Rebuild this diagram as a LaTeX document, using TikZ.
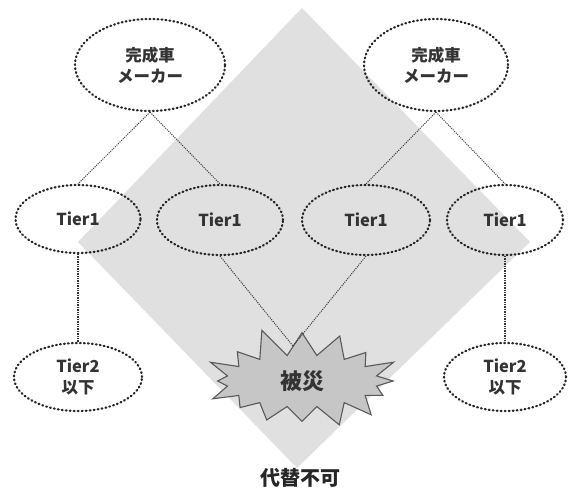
\documentclass[tikz,border=0pt]{standalone}
\usepackage{fontspec}
\setmainfont{Noto Sans CJK JP}
\usetikzlibrary{shapes.geometric,shapes.symbols}
\tikzset{
  oval/.style={ellipse, draw=black!85, line width=2.2pt,
    dash pattern=on 0.9pt off 3.1pt, line cap=round,
    inner sep=0pt, text=black!80, align=center,
    font=\bfseries\fontsize{16.5}{21}\selectfont},
  thinlink/.style={draw=black!75, line width=1pt, dash pattern=on 1.1pt off 1.1pt},
  thicklink/.style={draw=black!80, line width=1.7pt, dash pattern=on 1.4pt off 1pt},
  burst/.style={starburst, starburst points=16, starburst point height=30pt,
    random starburst=11, fill=gray!45, draw=gray!70!black, line width=1.1pt,
    minimum width=212pt, minimum height=112pt, inner sep=0pt,
    text=black!80, font=\bfseries\fontsize{22}{24}\selectfont},
}
\begin{document}
\begin{tikzpicture}[x=1pt,y=-1pt]
\useasboundingbox (0,0) rectangle (571,489);
% diamond
\fill[gray!24] (302,8) -- (530,242) -- (297,468) -- (78,242) -- cycle;
% nodes
\node[oval, minimum width=150pt, minimum height=92pt] (mk1) at (150,65) {完成車\\メーカー};
\node[oval, minimum width=144pt, minimum height=92pt] (mk2) at (436,65) {完成車\\メーカー};
\node[oval, minimum width=125pt, minimum height=68pt] (t1a) at (78,219) {Tier1};
\node[oval, minimum width=126pt, minimum height=70pt] (t1b) at (220,220) {Tier1};
\node[oval, minimum width=128pt, minimum height=70pt] (t1c) at (366,220) {Tier1};
\node[oval, minimum width=116pt, minimum height=70pt] (t1d) at (505,220) {Tier1};
\node[oval, minimum width=128pt, minimum height=68pt] (t2a) at (78,377) {Tier2\\以下};
\node[oval, minimum width=122pt, minimum height=68pt] (t2b) at (505,377) {Tier2\\以下};
% disaster star
\node[burst] (star) at (302,381) {被災};
\coordinate (hit) at (293,346);
% label
\node[font=\bfseries\fontsize{20}{22}\selectfont, text=black!85] (lbl) at (300,478) {代替不可};
% connectors
\draw[thinlink] (mk1.south) -- (t1a.north);
\draw[thinlink] (mk1.south) -- (t1b.north);
\draw[thinlink] (mk2.south) -- (t1c.north);
\draw[thinlink] (mk2.south) -- (t1d.north);
\draw[thinlink] (t1b.south) -- (hit);
\draw[thinlink] (t1c.south) -- (hit);
\draw[thicklink] (t1a.south) -- (t2a.north);
\draw[thicklink] (t1d.south) -- (t2b.north);
\end{tikzpicture}
\end{document}
